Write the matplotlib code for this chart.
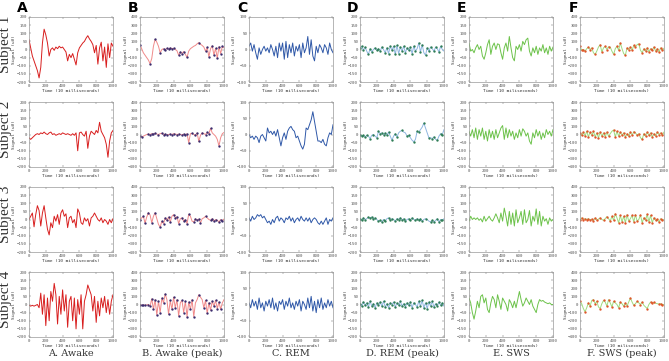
import numpy as np
import matplotlib
matplotlib.use("Agg")
import matplotlib.pyplot as plt

# time axis shared by all traces (10 ms units, one value every 20)
t = np.arange(0, 1001, 20)

# signals, uV
s1_awake = [60, 10, -40, -70, -100, -130, -175, -110, 40, 125, 90, 40, -40, 0, 10, -5, 15, 5, 20, 10,
            15, 0, -15, -70, -30, -50, -25, -60, -95, -20, 10, 25, 40, 50, 70, 85, 65, 50, 30, -20,
            25, -90, 10, 45, -70, 15, -110, 35, -50, 40, 20]
s2_awake = [-20, -30, -20, -10, 0, 5, 0, 10, 5, 15, 5, 0, 10, 15, 0, 5, -5, 0, 5, 0,
            10, 5, 0, 5, 0, -5, 5, -5, 10, -100, 10, 15, 0, -10, 20, -85, -10, 20, 10, 0,
            25, 10, 75, 20, 0, -20, -60, -140, -40, 10, 25]
s3_awake = [0, 20, 40, -45, 30, 85, 55, -40, 40, 85, 10, -60, -95, -20, -50, 20, -10, 30, -30, 40,
            60, 20, 35, -50, 10, 20, -20, 0, -50, 65, 40, -20, -30, 10, -10, 5, -40, 10, 20, 40,
            20, 0, -10, 10, -20, 0, -10, -30, 0, -20, 5]
s4_awake = [-5, -10, -5, -10, -5, 0, -20, 70, -60, 60, -130, 40, -100, 80, 20, 130, 60, -120, 50, -60,
            90, -40, 60, -140, 20, 50, -100, 40, -150, 30, -60, 60, -150, 20, 60, 120, 90, 60, -40, 50,
            -110, 20, -70, 40, -20, 50, -50, 30, -60, 20, 60]

s1_rem = [10, 20, -5, 15, -10, -30, 5, -15, 0, 10, -5, 5, -10, 15, 0, -20, 10, -25, 20, -5,
          20, -30, 25, -25, 15, -10, 20, -20, 10, -5, 15, -25, 20, -10, 5, 40, -15, 30, -20, -35,
          10, -10, 15, 5, -10, 15, 5, -15, 20, 0, -10]
s2_rem = [0, -10, -5, -15, -5, -10, -25, -5, 0, -10, -20, 20, 5, 10, 0, 10, -5, 15, -10, -35,
          -10, 5, -15, 10, 20, 25, 15, 10, -10, -5, -20, -35, -45, -30, 20, 15, 30, 45, 70, 40,
          10, -20, -20, -25, -15, -30, -35, -10, 5, 0, 30]
s3_rem = [5, -5, 10, 0, 5, 15, 10, 15, 5, 10, 0, -10, -5, -15, 0, -10, 5, 10, -5, 5,
          0, -10, 5, 0, 10, -5, 5, -10, 0, 5, -5, 10, 0, -5, 5, -5, 5, -10, 0, 5,
          0, -10, -15, -5, -15, -5, 5, -15, 0, -5, 5]
s4_rem = [5, -10, 15, -5, 10, -15, 20, -10, 5, -20, 10, -5, 15, -10, 20, -15, 5, -20, 10, 0,
          15, -15, 10, -5, 20, -10, 5, -15, 10, -5, 15, -20, 10, 0, -15, 20, -10, 25, -20, 10,
          -25, 15, -10, 20, -15, 5, -10, 15, -5, 10, -10]

s1_sws = [40, -10, 0, -20, 10, 30, 0, 20, -40, -60, -20, 30, 60, -30, 20, 40, 0, 35, 30, -20,
          -60, 10, 40, -10, 80, 10, -50, -70, 20, 0, 30, -10, 50, 30, 60, 70, -10, -40, 10, -20,
          20, -30, 10, -10, 30, -20, 10, -30, 20, -10, 15]
s2_sws = [20, -10, 30, -20, 40, -30, 30, -10, 40, -30, 20, -40, 30, -20, 20, -30, 30, -20, 10, 40,
          55, -30, 40, -20, 30, -10, 20, -30, 10, -20, 30, -10, 35, 20, -10, 10, -40, -60, 10, -20,
          30, -10, 20, -30, 10, -20, 30, 0, 20, -10, 30]
s3_sws = [-10, 20, 0, 10, 0, 10, -5, 5, -15, 20, -10, 5, 20, 0, -10, 10, 35, 10, -20, 40,
          -10, 70, 20, -40, 50, -30, 40, -40, 60, -20, 10, 50, -30, 60, -20, 0, 55, -40, 20, -10,
          65, -30, 50, -40, 20, -10, 5, -30, 10, -10, 0]
s4_sws = [40, 10, -50, -90, -40, 20, -20, 50, 60, 10, 40, -30, -50, 10, 50, 30, -20, 60, 20, -30,
          40, 20, 0, -40, 30, 10, -20, 20, -20, 30, 80, 30, -10, 10, 40, 20, 0, 30, -10, -30,
          -50, 0, 30, 20, 25, 15, 10, 5, 10, 0, 0]

awake = [s1_awake, s2_awake, s3_awake, s4_awake]
rem = [s1_rem, s2_rem, s3_rem, s4_rem]
sws = [s1_sws, s2_sws, s3_sws, s4_sws]

subjects = ["Subject 1", "Subject 2", "Subject 3", "Subject 4"]
letters = ["A", "B", "C", "D", "E", "F"]
titles = ["A. Awake", "B. Awake (peak)", "C. REM", "D. REM (peak)", "E. SWS", "F. SWS (peak)"]

W, H = 669, 361
col_left = [29, 140, 249, 360, 469, 580]
row_top = [17, 102, 187, 272]
pw, ph = 84, 65

mono = "DejaVu Sans Mono"


def find_peaks(y):
    # local maxima and minima of a trace
    y = np.asarray(y)
    idx = [0]
    for i in range(1, len(y) - 1):
        if (y[i] > y[i - 1] and y[i] >= y[i + 1]) or (y[i] < y[i - 1] and y[i] <= y[i + 1]):
            idx.append(i)
    return np.array(idx)


def draw(ax, y, lim, step, color, xlab, peaks_color=None):
    ax.plot(t, y, color=color, lw=0.7)
    if peaks_color is not None:
        p = find_peaks(y)
        ax.plot(t[p], np.asarray(y)[p], "o", color=peaks_color, ms=1.7, mew=0)
    ax.set_xlim(0, 1000)
    ax.set_ylim(-lim, lim)
    ax.set_xticks(range(0, 1001, 200))
    ax.set_yticks(range(-lim, lim + 1, step))
    ax.tick_params(direction="in", length=1.5, width=0.3, labelsize=3, pad=1.2,
                   top=True, right=True, colors="#555555")
    for lab in ax.get_xticklabels() + ax.get_yticklabels():
        lab.set_family(mono)
    ax.set_xlabel(xlab, fontsize=3.2, family=mono, labelpad=1.2, color="#333333")
    ax.set_ylabel("Signal (uV)", fontsize=3.2, family=mono, labelpad=0.6, color="#333333")
    for sp in ax.spines.values():
        sp.set_color("#999999")
        sp.set_linewidth(0.5)


fig = plt.figure(figsize=(W / 100, H / 100), dpi=100)

for r in range(4):
    axs = []
    for c in range(6):
        ax = fig.add_axes([col_left[c] / W, 1 - (row_top[r] + ph) / H, pw / W, ph / H])
        axs.append(ax)
    xl = "Time (10 milliseconds)"
    xl2 = "Time (10 miliseconds)"
    draw(axs[0], awake[r], 200, 50, "#d81e1e", xl)
    draw(axs[1], awake[r], 400, 100, "#f08a8a", xl, peaks_color="#3b2d6e")
    draw(axs[2], rem[r], 100, 50, "#2f58a8", xl)
    draw(axs[3], rem[r], 200, 50, "#8fb6e0", xl, peaks_color="#2f7d55")
    draw(axs[4], sws[r], 200, 50, "#6cc24a", xl2)
    draw(axs[5], sws[r], 400, 100, "#9fdc80", xl2, peaks_color="#e0562a")

    fig.text(6 / W, 1 - (row_top[r] + ph / 2 - 5) / H, subjects[r], rotation=90,
             ha="center", va="center", fontsize=11, family="Liberation Serif", color="#333333")

for c in range(6):
    fig.text((col_left[c] - 7) / W, 1 - 8 / H, letters[c], ha="center", va="center",
             fontsize=10, fontweight="bold", family="DejaVu Sans")
    fig.text((col_left[c] + pw / 2) / W, 1 - 353 / H, titles[c], ha="center", va="center",
             fontsize=7, family="DejaVu Serif", color="#333333")

fig.savefig("out.png", dpi=100)
